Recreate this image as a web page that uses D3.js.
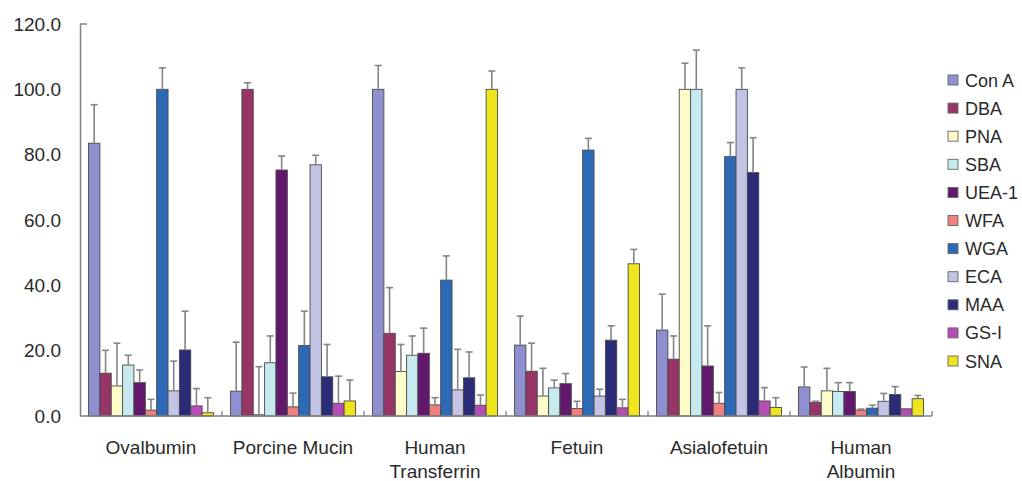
<!DOCTYPE html>
<html><head><meta charset="utf-8">
<script src="https://cdn.jsdelivr.net/npm/d3@7"></script>
<style>
html,body{margin:0;padding:0;background:#fff;}
svg{display:block;font-family:"Liberation Sans",Arial,sans-serif;}
</style></head>
<body><svg id="c" width="1022" height="481"></svg>
<script>
const groups = ["Ovalbumin", "Porcine Mucin", "Human Transferrin", "Fetuin", "Asialofetuin", "Human Albumin"];
const groupLines = [["Ovalbumin"], ["Porcine Mucin"], ["Human", "Transferrin"], ["Fetuin"], ["Asialofetuin"], ["Human", "Albumin"]];
const lectins = ["Con A", "DBA", "PNA", "SBA", "UEA-1", "WFA", "WGA", "ECA", "MAA", "GS-I", "SNA"];
const colors = ["#8f8fcf", "#973567", "#fdfbc8", "#c6eaf0", "#62186c", "#f27f7f", "#2c69b6", "#c3c3e6", "#2b2b77", "#b64cb6", "#efe51c"];
const yTicks = [0, 20, 40, 60, 80, 100, 120];

// mean values per lectin, across the six glycoproteins
const conA  = [83.5, 7.6, 100, 21.7, 26.3, 8.9];
const dba   = [13.1, 100, 25.3, 13.7, 17.4, 4.1];
const pna   = [9.2, 0.4, 13.6, 6.1, 100, 7.7];
const sba   = [15.6, 16.3, 18.6, 8.6, 100, 7.5];
const uea1  = [10.2, 75.3, 19.2, 9.9, 15.3, 7.5];
const wfa   = [1.8, 2.8, 3.4, 2.3, 3.9, 1.8];
const wga   = [100, 21.6, 41.6, 81.4, 79.4, 2.4];
const eca   = [7.7, 76.9, 8.0, 6.1, 100, 4.5];
const maa   = [20.2, 12.0, 11.7, 23.2, 74.5, 6.6];
const gsI   = [3.1, 3.9, 3.3, 2.5, 4.6, 2.2];
const sna   = [1.0, 4.6, 100, 46.6, 2.6, 5.3];

// upper error (SD) per lectin
const conAErr = [11.8, 15.0, 7.3, 8.9, 11.0, 6.1];
const dbaErr  = [7.0, 2.0, 14.0, 8.6, 7.1, 0.4];
const pnaErr  = [13.1, 14.7, 8.3, 8.5, 8.0, 6.9];
const sbaErr  = [3.0, 8.2, 5.9, 2.4, 12.0, 2.7];
const uea1Err = [3.9, 4.3, 7.7, 3.1, 12.3, 2.7];
const wfaErr  = [3.3, 4.2, 2.2, 2.2, 3.3, 0.3];
const wgaErr  = [6.6, 10.5, 7.4, 3.6, 4.3, 0.9];
const ecaErr  = [9.1, 2.9, 12.4, 2.1, 6.6, 2.4];
const maaErr  = [11.9, 9.9, 7.9, 4.4, 10.7, 2.4];
const gsIErr  = [5.3, 8.3, 3.1, 2.6, 4.1, 0.0];
const snaErr  = [4.6, 6.4, 5.6, 4.4, 3.0, 1.0];

const means = [conA, dba, pna, sba, uea1, wfa, wga, eca, maa, gsI, sna];
const errs = [conAErr, dbaErr, pnaErr, sbaErr, uea1Err, wfaErr, wgaErr, ecaErr, maaErr, gsIErr, snaErr];

const svg = d3.select("#c");
const mLeft = 80, mRight = 932, mTop = 24, mBottom = 416;

const x0 = d3.scaleBand().domain(groups).range([mLeft, mRight]).padding(0);
const x1 = d3.scaleBand().domain(lectins).range([0, x0.bandwidth()]).paddingInner(0).paddingOuter(0.75);
const y = d3.scaleLinear().domain([0, 120]).range([mBottom, mTop]);

const data = [];
groups.forEach((g, gi) => lectins.forEach((l, li) => {
  data.push({g, l, li, v: means[li][gi], e: errs[li][gi]});
}));

// bars
svg.append("g").selectAll("rect").data(data).join("rect")
  .attr("x", d => x0(d.g) + x1(d.l))
  .attr("y", d => y(d.v))
  .attr("width", x1.bandwidth())
  .attr("height", d => y(0) - y(d.v))
  .attr("fill", d => colors[d.li])
  .attr("stroke", "#4a4a4a")
  .attr("stroke-width", 0.9);

// error bars
const eg = svg.append("g").attr("stroke", "#858585").attr("stroke-width", 1.6).attr("fill", "none");
data.filter(d => d.e > 0).forEach(d => {
  const cx = x0(d.g) + x1(d.l) + x1.bandwidth() / 2;
  eg.append("line").attr("x1", cx).attr("x2", cx).attr("y1", y(d.v)).attr("y2", y(d.v + d.e));
  eg.append("line").attr("x1", cx - 3.5).attr("x2", cx + 3.5).attr("y1", y(d.v + d.e)).attr("y2", y(d.v + d.e));
});

// y axis
const yAxis = d3.axisLeft(y).tickValues(yTicks).tickFormat(d3.format(".1f")).tickSize(0).tickPadding(20);
const ya = svg.append("g").attr("transform", `translate(${mLeft},0)`).call(yAxis);
ya.select(".domain").attr("stroke", "#808080").attr("stroke-width", 1.5);
ya.selectAll(".tick text").attr("fill", "#2a2a2a").style("font-size", "19px").attr("x", -19);
ya.append("line").attr("x1", 0).attr("x2", 7).attr("y1", y(120)).attr("y2", y(120))
  .attr("stroke", "#808080").attr("stroke-width", 1.5);

// x axis
const xa = svg.append("g").attr("transform", `translate(0,${mBottom})`);
xa.append("line").attr("x1", mLeft).attr("x2", mRight).attr("stroke", "#808080").attr("stroke-width", 1.5);
const bounds = groups.map(g => x0(g)).concat([mRight]);
xa.selectAll("line.t").data(bounds.slice(1)).join("line").attr("class", "t")
  .attr("x1", d => d).attr("x2", d => d).attr("y1", 0).attr("y2", -5)
  .attr("stroke", "#808080").attr("stroke-width", 1.3);
groups.forEach((g, gi) => {
  const t = xa.append("text").attr("x", x0(g) + x0.bandwidth() / 2).attr("y", 38)
    .attr("text-anchor", "middle").attr("fill", "#2a2a2a").style("font-size", "19px");
  groupLines[gi].forEach((s, k) => t.append("tspan").attr("x", x0(g) + x0.bandwidth() / 2).attr("dy", k ? 24 : 0).text(s));
});

// legend
const lg = svg.append("g").attr("transform", "translate(948,75)");
lectins.forEach((l, i) => {
  const r = lg.append("g").attr("transform", `translate(0,${i * 28.1})`);
  r.append("rect").attr("width", 10).attr("height", 10).attr("fill", colors[i]).attr("stroke", "#666").attr("stroke-width", 0.9);
  r.append("text").attr("x", 17).attr("y", 11.5).attr("fill", "#2a2a2a").style("font-size", "18px").text(l);
});
</script></body></html>
